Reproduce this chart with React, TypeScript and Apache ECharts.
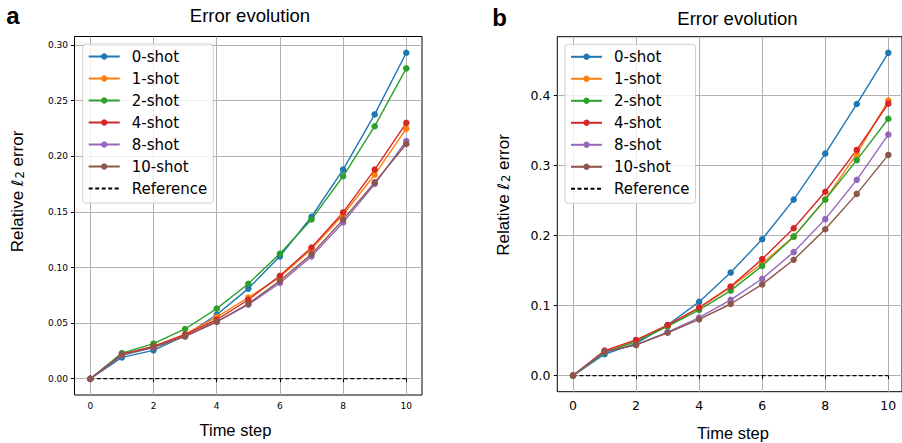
import React, { useEffect, useRef } from "react";
import * as echarts from "echarts";

const timeSteps = [0, 1, 2, 3, 4, 5, 6, 7, 8, 9, 10];
const seriesNames = ["0-shot", "1-shot", "2-shot", "4-shot", "8-shot", "10-shot"];
const seriesColors = ["#1f77b4", "#ff7f0e", "#2ca02c", "#d62728", "#9467bd", "#8c564b"];

// Panel a
const a0shot = [0, 0.0192, 0.0255, 0.0387, 0.0575, 0.081, 0.11, 0.1456, 0.188, 0.2376, 0.293];
const a1shot = [0, 0.022, 0.029, 0.04, 0.0554, 0.073, 0.0914, 0.1166, 0.1474, 0.1834, 0.2248];
const a2shot = [0, 0.023, 0.0315, 0.0447, 0.063, 0.0854, 0.1124, 0.1432, 0.182, 0.227, 0.279];
const a4shot = [0, 0.022, 0.029, 0.0396, 0.053, 0.071, 0.0926, 0.118, 0.1495, 0.188, 0.23];
const a8shot = [0, 0.021, 0.028, 0.038, 0.051, 0.0665, 0.086, 0.11, 0.1405, 0.175, 0.2137];
const a10shot = [0, 0.0216, 0.0282, 0.038, 0.0512, 0.0674, 0.088, 0.112, 0.143, 0.1765, 0.211];

// Panel b
const b0shot = [0, 0.0304, 0.046, 0.072, 0.105, 0.1468, 0.1943, 0.2508, 0.3164, 0.387, 0.46];
const b1shot = [0, 0.034, 0.049, 0.071, 0.096, 0.126, 0.16, 0.198, 0.251, 0.316, 0.392];
const b2shot = [0, 0.033, 0.0485, 0.07, 0.0936, 0.121, 0.1563, 0.198, 0.251, 0.307, 0.366];
const b4shot = [0, 0.0356, 0.0508, 0.072, 0.097, 0.127, 0.166, 0.21, 0.262, 0.3216, 0.3876];
const b8shot = [0, 0.034, 0.0437, 0.062, 0.0827, 0.108, 0.138, 0.176, 0.223, 0.279, 0.3435];
const b10shot = [0, 0.034, 0.0437, 0.061, 0.08, 0.102, 0.13, 0.165, 0.2085, 0.259, 0.3145];

const referenceSteps = [0, 10];
const referenceValues = [0, 0];

const panelAValues = [a0shot, a1shot, a2shot, a4shot, a8shot, a10shot];
const panelBValues = [b0shot, b1shot, b2shot, b4shot, b8shot, b10shot];

const TICK = "DejaVu Sans";
const SANS = "Liberation Sans, Arial, sans-serif";

function hiddenAxis(gridIndex: number, min: number, max: number) {
  return { type: "value", gridIndex, min, max, show: false };
}

function buildPanel(
  base: number,
  values: number[][],
  frame: { left: number; top: number; width: number; height: number },
  xInner: { left: number; width: number },
  yInner: { top: number; height: number },
  yFull: [number, number],
  yTicks: { max: number; interval: number; digits: number },
  tickFont: number,
  labelMargin: number
) {
  const grids = [
    { ...frame, show: true, borderColor: "#000", borderWidth: 1, backgroundColor: "transparent" },
    { left: xInner.left, width: xInner.width, top: frame.top, height: frame.height, show: false },
    { left: frame.left, width: frame.width, top: yInner.top, height: yInner.height, show: false },
  ];
  const xAxes = [
    hiddenAxis(base, 0, 1),
    {
      type: "value",
      gridIndex: base + 1,
      min: 0,
      max: 10,
      interval: 2,
      axisLine: { show: false },
      axisTick: { show: true, inside: false, length: 3.5, lineStyle: { color: "#000", width: 1 } },
      axisLabel: { fontFamily: TICK, fontSize: tickFont, color: "#000", margin: labelMargin },
      splitLine: { show: true, lineStyle: { color: "#b0b0b0", width: 1 } },
    },
    hiddenAxis(base + 2, 0, 1),
  ];
  const yAxes = [
    hiddenAxis(base, 0, 1),
    hiddenAxis(base + 1, yFull[0], yFull[1]),
    {
      type: "value",
      gridIndex: base + 2,
      min: 0,
      max: yTicks.max,
      interval: yTicks.interval,
      axisLine: { show: false },
      axisTick: { show: true, inside: false, length: 3.5, lineStyle: { color: "#000", width: 1 } },
      axisLabel: {
        fontFamily: TICK,
        fontSize: tickFont,
        color: "#000",
        margin: labelMargin,
        formatter: (v: number) => v.toFixed(yTicks.digits),
      },
      splitLine: { show: true, lineStyle: { color: "#b0b0b0", width: 1 } },
    },
  ];
  const series: any[] = values.map((vals, i) => ({
    type: "line",
    name: seriesNames[i],
    xAxisIndex: base + 1,
    yAxisIndex: base + 1,
    data: timeSteps.map((t, j) => [t, vals[j]]),
    symbol: "circle",
    symbolSize: 6.5,
    clip: false,
    color: seriesColors[i],
    lineStyle: { width: 1.4, color: seriesColors[i] },
    itemStyle: { color: seriesColors[i] },
    emphasis: { disabled: true },
  }));
  series.push({
    type: "line",
    name: "Reference",
    xAxisIndex: base + 1,
    yAxisIndex: base + 1,
    data: referenceSteps.map((t, j) => [t, referenceValues[j]]),
    symbol: "none",
    clip: false,
    color: "#000",
    lineStyle: { width: 1.3, color: "#000", type: [4, 2.5] },
    emphasis: { disabled: true },
  });
  return { grids, xAxes, yAxes, series };
}

function legendAt(left: number, top: number) {
  return {
    left,
    top,
    orient: "vertical",
    data: [
      ...seriesNames,
      { name: "Reference", itemStyle: { opacity: 0 } },
    ],
    itemWidth: 31,
    itemHeight: 8,
    itemGap: 7,
    padding: [5, 6, 7, 5],
    backgroundColor: "rgba(255,255,255,0.8)",
    borderColor: "#d0d0d0",
    borderWidth: 1,
    borderRadius: 3,
    selectedMode: false,
    textStyle: {
      fontFamily: TICK,
      fontSize: 15,
      lineHeight: 15,
      color: "#000",
      padding: [0, 0, 0, 7],
    },
  };
}

export default function App() {
  const ref = useRef<HTMLDivElement>(null);
  useEffect(() => {
    if (!ref.current) return;
    const chart = echarts.init(ref.current, undefined, { renderer: "svg" });

    const pa = buildPanel(
      0,
      panelAValues,
      { left: 74.5, top: 36.5, width: 347.5, height: 358.5 },
      { left: 90.3, width: 316 },
      { top: 45.1, height: 333.6 },
      [-0.01465, 0.30765],
      { max: 0.3, interval: 0.05, digits: 2 },
      9,
      6.5
    );
    const pb = buildPanel(
      3,
      panelBValues,
      { left: 557.3, top: 36.7, width: 346.7, height: 355 },
      { left: 573, width: 315.3 },
      { top: 95, height: 280.7 },
      [-0.023, 0.483],
      { max: 0.4, interval: 0.1, digits: 1 },
      12.5,
      6.8
    );

    const txt = (x: number, y: number, text: string, size: number, extra: any = {}) => ({
      type: "text",
      x,
      y,
      style: {
        text,
        fontFamily: SANS,
        fontSize: size,
        fill: "#000",
        textAlign: "center",
        textVerticalAlign: "middle",
        ...extra,
      },
    });

    const yName = (x: number, y: number) => ({
      type: "text",
      x,
      y,
      rotation: Math.PI / 2,
      style: {
        text: "{m|Relative }{i|ℓ}{s|2}{m| error}",
        fontFamily: SANS,
        fontSize: 17,
        fill: "#000",
        textAlign: "center",
        textVerticalAlign: "middle",
        rich: {
          m: { fontFamily: SANS, fontSize: 17, lineHeight: 17, fill: "#000", verticalAlign: "middle" },
          i: { fontFamily: "DejaVu Sans", fontStyle: "italic", fontSize: 16, lineHeight: 17, fill: "#000", verticalAlign: "middle" },
          s: { fontFamily: "DejaVu Sans", fontSize: 11.5, fill: "#000", verticalAlign: "bottom", lineHeight: 13, padding: [9, 0, 0, 1] },
        },
      },
    });

    chart.setOption({
      animation: false,
      backgroundColor: "#fff",
      grid: [...pa.grids, ...pb.grids],
      xAxis: [...pa.xAxes, ...pb.xAxes],
      yAxis: [...pa.yAxes, ...pb.yAxes],
      series: [...pa.series, ...pb.series],
      legend: [legendAt(82.7, 44), legendAt(565, 44.3)],
      graphic: [
        txt(13, 15.5, "a", 24, { fontWeight: "bold" }),
        txt(499.7, 17, "b", 24, { fontWeight: "bold" }),
        txt(250, 15.5, "Error evolution", 18.5),
        txt(737.5, 18, "Error evolution", 18.5),
        txt(235.4, 430, "Time step", 16.5),
        txt(733, 433, "Time step", 16.5),
        yName(17.5, 191.5),
        yName(503.7, 195),
      ],
    });
    return () => chart.dispose();
  }, []);
  return (
    <div
      ref={ref}
      style={{ position: "absolute", left: 0, top: 0, width: 902, height: 443 }}
    />
  );
}
